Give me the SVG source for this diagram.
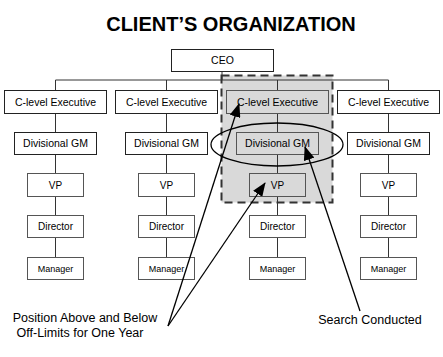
<svg xmlns="http://www.w3.org/2000/svg" width="443" height="357" viewBox="0 0 443 357">
<defs>
<marker id="ah" markerWidth="14" markerHeight="11" refX="13" refY="5.5" orient="auto" markerUnits="userSpaceOnUse" viewBox="0 0 14 11">
<path d="M0,0 L14,5.5 L0,11 z" fill="#000"/>
</marker>
<style>
.t{font-family:"Liberation Sans",Arial,sans-serif;fill:#000;text-anchor:middle}
.b1{fill:#fff;stroke:#222;stroke-width:1}
.b2{fill:#fff;stroke:#555;stroke-width:1}
.g{fill:none;stroke:#333;stroke-width:1}
.big{font-size:10.5px}
.sm{font-size:10px}
.mg{font-size:9px}
.ann{fill:none;stroke:#000;stroke-width:1.3}
.lab{font-size:12.5px}
</style>
</defs>
<rect width="443" height="357" fill="#fff"/>
<text class="t" x="231" y="31" style="font-size:20px;font-weight:bold">CLIENT’S ORGANIZATION</text>
<rect x="221.5" y="75.5" width="111" height="127" fill="#d9d9d9" stroke="#333" stroke-width="2" stroke-dasharray="8,5"/>
<g id="connectors">
<path class="g" d="M222,71V80M55.5,80H388.5M55.5,80V90M166.5,80V90M277.5,80V90M388.5,80V90"/>
<path class="g" d="M55.5,113V258M166.5,113V258M277.5,113V258M388.5,113V258"/>
</g>
<g id="ceo"><rect class="b1" x="171.5" y="49.5" width="102" height="22"/><text class="t big" x="222.5" y="64">CEO</text></g>
<g id="c1"><rect class="b1" x="4.5" y="90.5" width="102" height="23"/><text class="t big" x="55.5" y="105.5">C-level Executive</text></g>
<g id="c2"><rect class="b1" x="115.5" y="90.5" width="102" height="23"/><text class="t big" x="166.5" y="105.5">C-level Executive</text></g>
<g id="c3"><rect class="b1" x="226.5" y="90.5" width="102" height="23" style="fill:#d9d9d9;stroke:#555"/><text class="t big" x="277.5" y="105.5">C-level Executive</text></g>
<g id="c4"><rect class="b1" x="337.5" y="90.5" width="102" height="23"/><text class="t big" x="388.5" y="105.5">C-level Executive</text></g>
<g id="d1"><rect class="b1" x="14.5" y="132.5" width="82" height="22"/><text class="t big" x="55.5" y="147">Divisional GM</text></g>
<g id="d2"><rect class="b1" x="125.5" y="132.5" width="82" height="22"/><text class="t big" x="166.5" y="147">Divisional GM</text></g>
<g id="d3"><rect class="b1" x="236.5" y="132.5" width="82" height="22" style="fill:#d9d9d9;stroke:#555"/><text class="t big" x="277.5" y="147">Divisional GM</text></g>
<g id="d4"><rect class="b1" x="347.5" y="132.5" width="82" height="22"/><text class="t big" x="388.5" y="147">Divisional GM</text></g>
<g id="v1"><rect class="b2" x="27.5" y="173.5" width="56" height="23"/><text class="t sm" x="55.5" y="188.5">VP</text></g>
<g id="v2"><rect class="b2" x="138.5" y="173.5" width="56" height="23"/><text class="t sm" x="166.5" y="188.5">VP</text></g>
<g id="v3"><rect class="b2" x="249.5" y="173.5" width="56" height="23" style="fill:#d9d9d9"/><text class="t sm" x="277.5" y="188.5">VP</text></g>
<g id="v4"><rect class="b2" x="360.5" y="173.5" width="56" height="23"/><text class="t sm" x="388.5" y="188.5">VP</text></g>
<g id="r1"><rect class="b2" x="27.5" y="215.5" width="56" height="22"/><text class="t sm" x="55.5" y="230">Director</text></g>
<g id="r2"><rect class="b2" x="138.5" y="215.5" width="56" height="22"/><text class="t sm" x="166.5" y="230">Director</text></g>
<g id="r3"><rect class="b2" x="249.5" y="215.5" width="56" height="22"/><text class="t sm" x="277.5" y="230">Director</text></g>
<g id="r4"><rect class="b2" x="360.5" y="215.5" width="56" height="22"/><text class="t sm" x="388.5" y="230">Director</text></g>
<g id="m1"><rect class="b2" x="27.5" y="257.5" width="56" height="22"/><text class="t mg" x="55.5" y="271.5">Manager</text></g>
<g id="m2"><rect class="b2" x="138.5" y="257.5" width="56" height="22"/><text class="t mg" x="166.5" y="271.5">Manager</text></g>
<g id="m3"><rect class="b2" x="249.5" y="257.5" width="56" height="22"/><text class="t mg" x="277.5" y="271.5">Manager</text></g>
<g id="m4"><rect class="b2" x="360.5" y="257.5" width="56" height="22"/><text class="t mg" x="388.5" y="271.5">Manager</text></g>
<ellipse cx="277" cy="144.5" rx="66" ry="21.5" fill="none" stroke="#000" stroke-width="1.3"/>
<g id="annotations">
<line class="ann" x1="168" y1="326" x2="239" y2="104" marker-end="url(#ah)"/>
<line class="ann" x1="168" y1="326" x2="265" y2="183" marker-end="url(#ah)"/>
<line class="ann" x1="360" y1="311" x2="305" y2="147" marker-end="url(#ah)"/>
</g>
<text class="t lab" x="85" y="322">Position Above and Below</text>
<text class="t lab" x="80" y="337">Off-Limits for One Year</text>
<text class="t lab" x="370" y="324">Search Conducted</text>
</svg>
